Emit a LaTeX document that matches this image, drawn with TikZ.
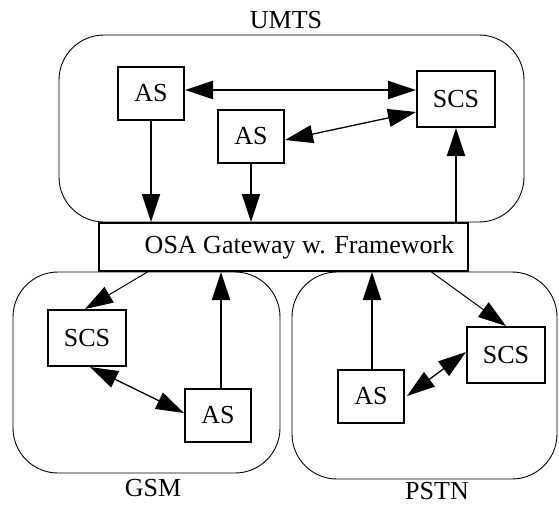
\documentclass[tikz,border=0pt]{standalone}
\usepackage{fontspec}
\setmainfont{Liberation Serif}
\usetikzlibrary{arrows.meta}
\begin{document}
\begin{tikzpicture}[x=1pt, y=-1pt, font=\fontsize{26}{30}\selectfont]
    \tikzset{block/.style={rectangle, draw, line width=2pt, inner sep=0pt, minimum width=66pt, minimum height=53pt},
        sblock/.style={block, minimum width=78pt, minimum height=56pt},
        net/.style={draw, line width=0.9pt, rounded corners=45pt},
        arr/.style={-{Triangle[length=28pt,width=18pt]}, line width=2pt},
        tarr/.style={-{Triangle[length=28pt,width=18pt]}, line width=1pt},
        dbl/.style={{Triangle[length=28pt,width=18pt]}-{Triangle[length=28pt,width=18pt]}, line width=1.3pt}};
    \useasboundingbox (0,0) rectangle (559,504);
    % networks
    \draw[net] (59,35) rectangle (524,222);
    \draw[net] (13,272) rectangle (280,473);
    \draw[net] (292,272) rectangle (557,479);
    \node (umts) at (286,20) {UMTS};
    \node (gsm) at (153,488) {GSM};
    \node (pstn) at (437,491) {PSTN};
    % gateway
    \node[block, minimum width=369pt, minimum height=48pt, fill=white] (gw) at (283.5,247) {\hspace*{32pt}OSA Gateway w. Framework};
    % UMTS
    \node[block] (umtsAS1) at (151,93) {AS};
    \node[block] (umtsAS2) at (251,136) {AS};
    \node[sblock] (umtsSCS) at (456,99) {SCS};
    % GSM
    \node[sblock] (gsmSCS) at (87,338) {SCS};
    \node[block] (gsmAS) at (218,415) {AS};
    % PSTN
    \node[sblock] (pstnSCS) at (506,355) {SCS};
    \node[block] (pstnAS) at (371,396) {AS};
    % links
    \draw[arr] (umtsAS1.south) -- (umtsAS1.south |- gw.north);
    \draw[arr] (umtsAS2.south) -- (umtsAS2.south |- gw.north);
    \draw[arr] (umtsSCS.south |- gw.north) -- (umtsSCS.south);
    \draw[dbl, line width=2pt] ([yshift=3pt]umtsAS1.east) -- ([yshift=3pt]umtsAS1.east -| umtsSCS.west);
    \draw[dbl] ([yshift=-4pt]umtsAS2.east) -- ([yshift=-13pt]umtsSCS.west);
    \draw[tarr] ([xshift=-136pt]gw.south) -- ([xshift=-2pt]gsmSCS.north);
    \draw[arr] ([xshift=3pt]gsmAS.north) -- ([xshift=3pt]gsmAS.north |- gw.south);
    \draw[dbl] ([xshift=3pt]gsmSCS.south) -- ([yshift=2pt]gsmAS.west);
    \draw[arr] ([xshift=1pt]pstnAS.north) -- ([xshift=1pt]pstnAS.north |- gw.south);
    \draw[tarr] ([xshift=148pt]gw.south) -- (pstnSCS.north);
    \draw[dbl] ([xshift=2pt]pstnAS.east) -- ([yshift=3pt]pstnSCS.west);
\end{tikzpicture}
\end{document}
